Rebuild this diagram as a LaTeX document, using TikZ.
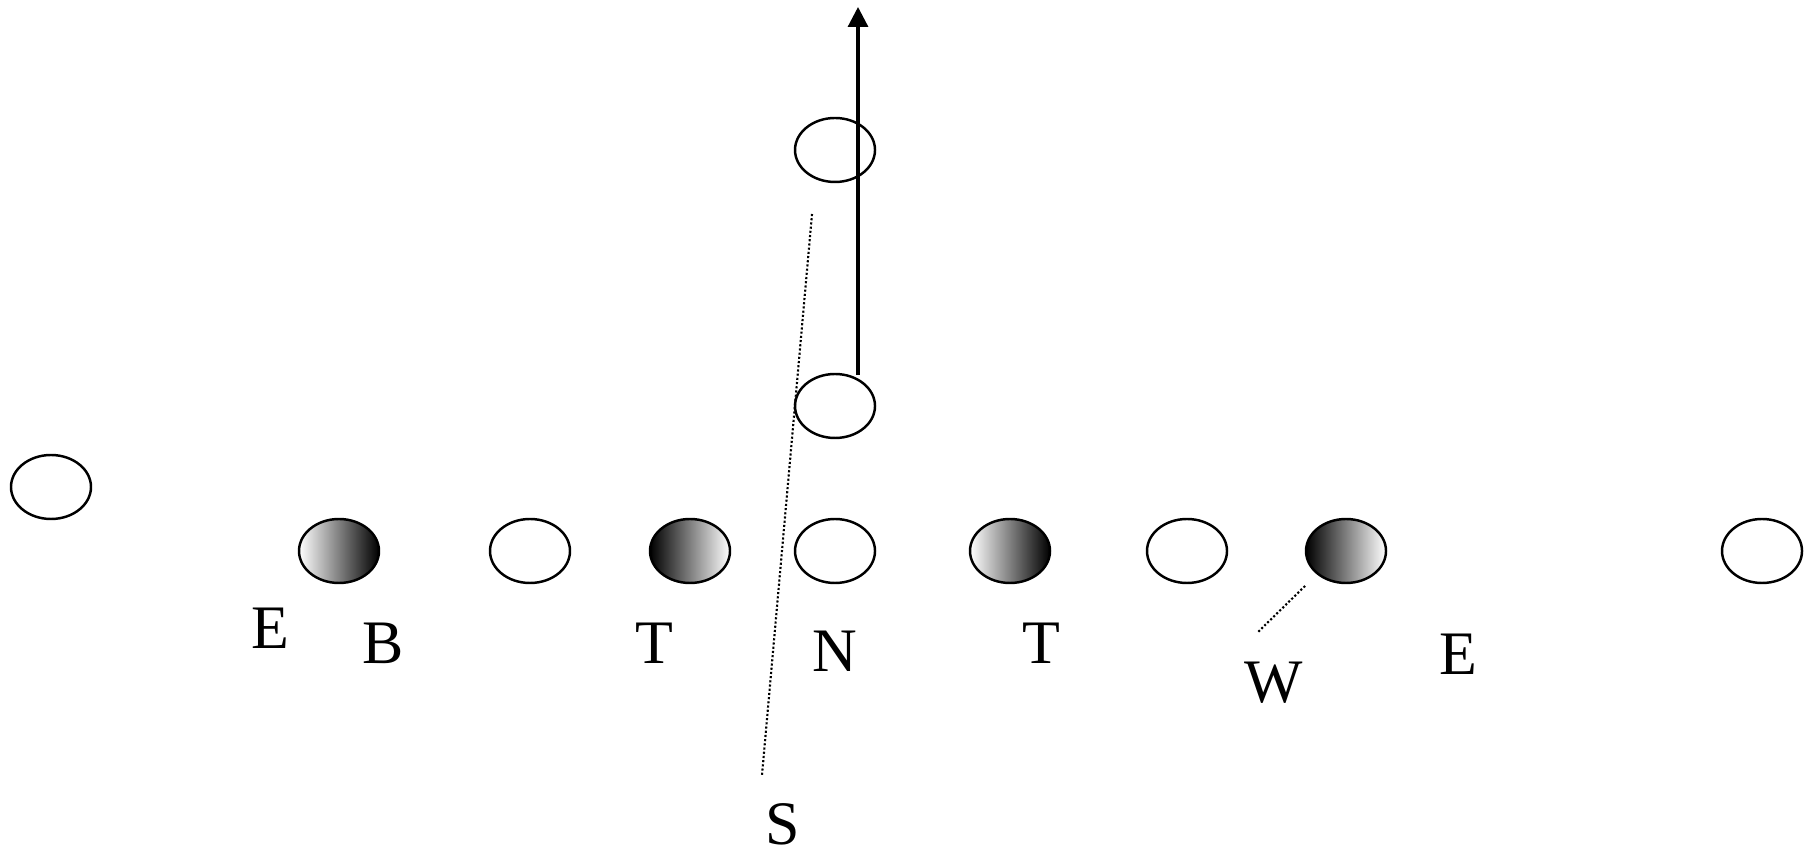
\documentclass[tikz,border=0pt]{standalone}
\usepackage{fontspec}
\setmainfont{Liberation Serif}
\usetikzlibrary{positioning,arrows,arrows.meta,shapes}
\tikzset{p/.style={ellipse,draw,line width=0.7pt,minimum width=0.8cm,minimum height=0.64cm,inner sep=0pt},
            lt/.style={p,left color=white,right color=black},
            dk/.style={p,left color=black,right color=white},
            l/.style={font=\fontsize{17.6}{20}\selectfont,inner sep=0pt},
            d/.style={line width=0.6pt,dash pattern=on 0.6pt off 0.6pt}}

\begin{document}
\begin{tikzpicture}
\useasboundingbox (0,0) rectangle (18.08,8.52);
\node[p] at (0.51,3.65)(wr){};
\node[lt] at (3.39,3.01)(b){};
\node[p] at (5.30,3.01)(lg){};
\node[dk] at (6.90,3.01)(t1){};
\node[p] at (8.35,3.01)(c){};
\node[lt] at (10.10,3.01)(t2){};
\node[p] at (11.87,3.01)(rg){};
\node[dk] at (13.46,3.01)(w){};
\node[p] at (17.62,3.01)(te){};
\node[p] at (8.35,4.46)(qb){};
\node[p] at (8.35,7.02)(fb){};
\node[l] at (2.70,2.24)(e1){E};
\node[l] at (3.83,2.09)(lb){B};
\node[l] at (6.54,2.09)(lt1){T};
\node[l] at (8.35,2.01)(ln){N};
\node[l] at (10.41,2.09)(lt2){T};
\node[l] at (12.74,1.69)(lw){W};
\node[l] at (14.58,1.98)(e2){E};
\node[l] at (7.83,0.28)(ls){S};
\coordinate (a0) at (8.58,4.77);
\coordinate (a1) at (8.58,8.45);
\coordinate (s0) at (8.12,6.38);
\coordinate (s1) at (7.62,0.77);
\coordinate (w0) at (13.05,2.66);
\coordinate (w1) at (12.58,2.20);
\draw[-{Triangle[width=0.2cm,length=0.2cm]}, line width=0.9pt] (a0) -- (a1);
\draw[d] (s0) -- (s1);
\draw[d] (w0) -- (w1);
\end{tikzpicture}
\end{document}
